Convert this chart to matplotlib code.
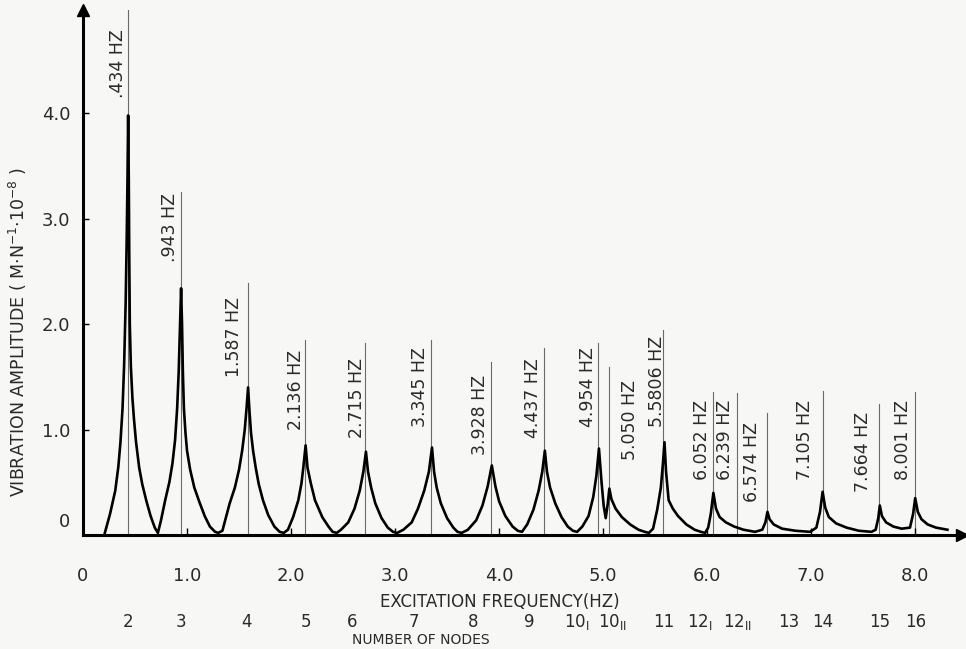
import matplotlib
matplotlib.use("Agg")
import matplotlib.pyplot as plt
import matplotlib.transforms as mtransforms

plt.rcParams["font.family"] = ["DejaVu Sans"]
plt.rcParams["mathtext.default"] = "regular"

# response curve (frequency in Hz, amplitude in m/N * 1e-8)
curve_f = [0.21, 0.26, 0.31, 0.34, 0.36, 0.38, 0.395, 0.41, 0.42, 0.428, 0.434,
           0.44, 0.445, 0.45, 0.46, 0.475, 0.49, 0.51, 0.54, 0.57, 0.61, 0.65, 0.69, 0.72,
           0.75, 0.79, 0.83, 0.86, 0.885, 0.905, 0.92, 0.933, 0.943,
           0.952, 0.96, 0.97, 0.985, 1.0, 1.03, 1.07, 1.12, 1.17, 1.22, 1.27, 1.30,
           1.34, 1.37, 1.41, 1.46, 1.50, 1.53, 1.555, 1.572, 1.587,
           1.60, 1.615, 1.635, 1.66, 1.69, 1.73, 1.78, 1.84, 1.89, 1.93,
           1.97, 2.02, 2.07, 2.10, 2.118, 2.14, 2.158, 2.19, 2.23, 2.30, 2.36, 2.40, 2.44,
           2.48, 2.55, 2.61, 2.66, 2.695, 2.72, 2.74, 2.77, 2.81, 2.87, 2.93, 2.98, 3.02,
           3.08, 3.16, 3.22, 3.28, 3.325, 3.355, 3.375, 3.40, 3.44, 3.50, 3.56, 3.60, 3.64,
           3.70, 3.78, 3.84, 3.89, 3.93, 3.965, 4.0, 4.06, 4.13, 4.18, 4.22,
           4.27, 4.33, 4.38, 4.415, 4.44, 4.46, 4.49, 4.54, 4.60, 4.66, 4.71, 4.75,
           4.80, 4.86, 4.905, 4.935, 4.96, 4.985, 5.005, 5.025, 5.045, 5.06, 5.08,
           5.12, 5.18, 5.26, 5.34, 5.40, 5.44,
           5.48, 5.52, 5.555, 5.575, 5.59, 5.605, 5.63, 5.67, 5.72, 5.80, 5.88, 5.94, 5.98,
           6.01, 6.035, 6.06, 6.085, 6.12, 6.18, 6.26, 6.35, 6.46,
           6.53, 6.56, 6.58, 6.60, 6.64, 6.72, 6.85, 6.99,
           7.05, 7.085, 7.11, 7.135, 7.17, 7.24, 7.34, 7.46, 7.58,
           7.62, 7.645, 7.66, 7.68, 7.72, 7.79, 7.87,
           7.95, 7.98, 8.0, 8.025, 8.06, 8.12, 8.20, 8.31]
curve_amp = [0.02, 0.2, 0.42, 0.65, 0.88, 1.2, 1.6, 2.2, 2.8, 3.4, 3.98,
             3.4, 2.6, 2.0, 1.6, 1.3, 1.1, 0.88, 0.64, 0.48, 0.32, 0.18, 0.07, 0.02,
             0.14, 0.33, 0.5, 0.68, 0.9, 1.2, 1.55, 2.0, 2.34,
             2.0, 1.55, 1.2, 0.97, 0.8, 0.62, 0.45, 0.31, 0.18, 0.08, 0.03, 0.02,
             0.04, 0.15, 0.3, 0.45, 0.62, 0.8, 1.0, 1.2, 1.40,
             1.18, 0.97, 0.8, 0.64, 0.48, 0.33, 0.19, 0.08, 0.03, 0.02,
             0.05, 0.17, 0.33, 0.49, 0.64, 0.85, 0.64, 0.49, 0.33, 0.17, 0.08, 0.03, 0.02,
             0.05, 0.12, 0.25, 0.42, 0.6, 0.79, 0.6, 0.45, 0.3, 0.16, 0.07, 0.03, 0.02,
             0.05, 0.12, 0.25, 0.42, 0.6, 0.83, 0.6, 0.45, 0.3, 0.16, 0.07, 0.03, 0.02,
             0.05, 0.14, 0.28, 0.46, 0.66, 0.46, 0.32, 0.18, 0.08, 0.04, 0.03,
             0.1, 0.24, 0.42, 0.6, 0.80, 0.6, 0.45, 0.3, 0.17, 0.08, 0.04, 0.03,
             0.08, 0.18, 0.36, 0.56, 0.82, 0.5, 0.28, 0.16, 0.3, 0.44, 0.34,
             0.25, 0.17, 0.1, 0.05, 0.03, 0.02,
             0.06, 0.24, 0.45, 0.68, 0.88, 0.6, 0.33, 0.25, 0.18, 0.1, 0.05, 0.03, 0.02,
             0.07, 0.2, 0.40, 0.25, 0.17, 0.12, 0.08, 0.05, 0.03,
             0.05, 0.12, 0.22, 0.15, 0.1, 0.06, 0.04, 0.03,
             0.07, 0.22, 0.41, 0.26, 0.17, 0.11, 0.07, 0.04, 0.03,
             0.05, 0.16, 0.28, 0.18, 0.12, 0.08, 0.06,
             0.07, 0.2, 0.35, 0.22, 0.15, 0.1, 0.07, 0.05]

# resonance markers: label text, line position and height of the line top
peak_labels = [".434 HZ", ".943 HZ", "1.587 HZ", "2.136 HZ", "2.715 HZ", "3.345 HZ", "3.928 HZ",
               "4.437 HZ", "4.954 HZ", "5.050 HZ", "5.5806 HZ", "6.052 HZ", "6.239 HZ",
               "6.574 HZ", "7.105 HZ", "7.664 HZ", "8.001 HZ"]
peak_line_x = [0.434, 0.943, 1.587, 2.13, 2.71, 3.35, 3.925, 4.43, 4.95, 5.06, 5.58,
               6.06, 6.29, 6.58, 7.11, 7.655, 8.0]
peak_line_top = [4.98, 3.25, 2.39, 1.85, 1.82, 1.85, 1.64, 1.77, 1.82, 1.59, 1.94,
                 1.36, 1.35, 1.16, 1.37, 1.24, 1.36]

node_labels = ["2", "3", "4", "5", "6", "7", "8", "9", "$10_{I}$", "$10_{II}$", "11",
               "$12_{I}$", "$12_{II}$", "13", "14", "15", "16"]
node_x = [0.43, 0.94, 1.57, 2.14, 2.59, 3.18, 3.75, 4.29, 4.75, 5.09, 5.58,
          5.93, 6.29, 6.78, 7.11, 7.66, 8.0]

x_ticks = [0, 1, 2, 3, 4, 5, 6, 7, 8]
x_tick_labels = ["0", "1.0", "2.0", "3.0", "4.0", "5.0", "6.0", "7.0", "8.0"]
y_ticks = [0, 1, 2, 3, 4]
y_tick_labels = ["0", "1.0", "2.0", "3.0", "4.0"]

# where each rotated label sits (centre x, bottom y), in data units
label_x = [0.337, 0.837, 1.45, 2.05, 2.63, 3.24, 3.82, 4.33, 4.85, 5.26, 5.52,
           5.95, 6.17, 6.43, 6.94, 7.50, 7.88]
label_y = [4.15, 2.59, 1.50, 1.00, 0.92, 1.02, 0.76, 0.92, 1.02, 0.71, 1.02,
           0.52, 0.52, 0.31, 0.52, 0.41, 0.52]

ink = "#2a2a2a"
bg = "#f7f7f5"

fig = plt.figure(figsize=(9.66, 6.49), dpi=100, facecolor=bg)
ax = fig.add_axes([83 / 966, 114 / 649, 879 / 966, 525 / 649])
ax.set_facecolor(bg)
ax.set_xlim(0, 8.45)
ax.set_ylim(0, 4.98)

for x, top in zip(peak_line_x, peak_line_top):
    ax.plot([x, x], [0, top], color="#6a6a6a", lw=0.8, zorder=1)

ax.plot(curve_f, curve_amp, color="black", lw=1.9, zorder=3, solid_joinstyle="round")

for txt, x, y in zip(peak_labels, label_x, label_y):
    ax.text(x, y, txt, rotation=90, ha="center", va="bottom", fontsize=12.5, color=ink)

for side in ["top", "right"]:
    ax.spines[side].set_visible(False)
for side in ["left", "bottom"]:
    ax.spines[side].set_linewidth(2.2)
    ax.spines[side].set_color("black")
ax.plot(1, 0, ">", color="black", ms=9, transform=ax.transAxes, clip_on=False)
ax.plot(0, 1, "^", color="black", ms=9, transform=ax.transAxes, clip_on=False)

ax.set_xticks(x_ticks)
ax.set_xticklabels(x_tick_labels, fontsize=13, color=ink)
ax.set_yticks(y_ticks)
ax.set_yticklabels(y_tick_labels, fontsize=13, color=ink)
ax.tick_params(axis="x", direction="in", length=5, width=1, pad=23)
ax.tick_params(axis="y", direction="in", length=4, width=1, pad=9)

# the "0" on the y axis sits a little above the x axis in the original
zero_lab = ax.get_yticklabels()[0]
zero_lab.set_transform(zero_lab.get_transform() + mtransforms.ScaledTranslation(0, 0.15, fig.dpi_scale_trans))

fig.text(500 / 966, 1 - 602 / 649, "EXCITATION FREQUENCY(HZ)", ha="center", va="center",
         fontsize=12, color=ink)
fig.text(421 / 966, 1 - 640 / 649, "NUMBER OF NODES", ha="center", va="center",
         fontsize=10, color=ink)
fig.text(18 / 966, 1 - 332 / 649, r"VIBRATION AMPLITUDE ( M$\cdot$N$^{-1}$$\cdot$10$^{-8}$ )",
         rotation=90, ha="center", va="center", fontsize=12.5, color=ink)

node_trans = mtransforms.blended_transform_factory(ax.transData, fig.transFigure)
for txt, x in zip(node_labels, node_x):
    ax.text(x, 1 - 622 / 649, txt, transform=node_trans, ha="center", va="center",
            fontsize=12, color=ink)

fig.savefig("out.png", dpi=100, facecolor=bg)
